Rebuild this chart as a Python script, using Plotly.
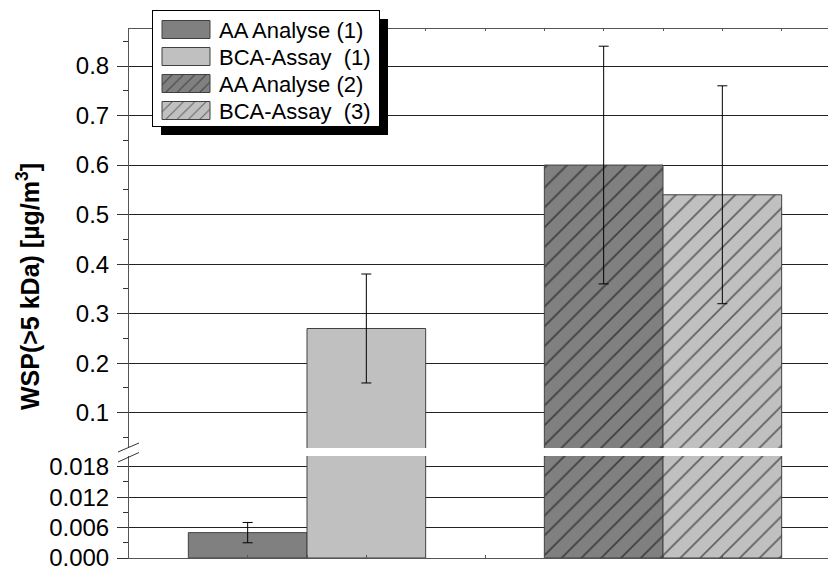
import plotly.graph_objects as go
import numpy as np

# ---- data ----
series_names = ["AA Analyse (1)", "BCA-Assay\u00a0 (1)", "AA Analyse (2)", "BCA-Assay\u00a0 (3)"]
group_pos = [0, 0, 1, 1]          # category slot of each series
slot = [0, 1, 0, 1]               # left / right bar within the group
values = [0.005, 0.27, 0.60, 0.54]
err_low = [0.003, 0.16, 0.36, 0.32]
err_high = [0.007, 0.38, 0.84, 0.76]
fill_colors = ["#808080", "#c0c0c0", "#808080", "#c0c0c0"]
hatched = [False, False, True, True]

lower_ticks = [0.0, 0.006, 0.012, 0.018]
upper_ticks = [0.1, 0.2, 0.3, 0.4, 0.5, 0.6, 0.7, 0.8]

# ---- layout geometry ----
W, H = 828, 566
ML, MR, MT, MB = 129, 0, 29, 8
PW, PH = W - ML - MR, H - MT - MB
px_per_cat = 356.0
bar_w = 1 / 3
x_range = [-0.5, -0.5 + PW / px_per_cat]
lower_dom = [0, 102 / PH]
upper_dom = [110 / PH, 1]
lower_range = [0, 0.0201]
upper_range = [0.0287, 0.8747]

font = "Liberation Sans, Arial, sans-serif"

fig = go.Figure()

for i, name in enumerate(series_names):
    pattern = dict(shape="/", fgcolor="#000000", bgcolor=fill_colors[i], size=14, solidity=0.12) if hatched[i] else dict(shape="")
    for panel, (xa, ya, rng) in enumerate([("x", "y", lower_range), ("x2", "y2", upper_range)]):
        vis_err = err_low[i] < rng[1] and err_high[i] > rng[0]
        fig.add_trace(go.Bar(
            x=[group_pos[i]], y=[values[i]],
            width=[bar_w], offset=[-bar_w + slot[i] * bar_w],
            name=name, xaxis=xa, yaxis=ya,
            marker=dict(color=fill_colors[i], line=dict(color="#404040", width=1), pattern=pattern),
            error_y=dict(type="data", symmetric=False,
                         array=[err_high[i] - values[i]], arrayminus=[values[i] - err_low[i]],
                         visible=vis_err, color="#000000", thickness=1, width=5),
            showlegend=(panel == 1),
            legendrank=i,
        ))

top_ticks = list(np.arange(-0.5, 1.5, 1 / 6))

axis_common = dict(showline=True, linecolor="#555555", linewidth=1, zeroline=False)
fig.update_layout(
    width=W, height=H,
    margin=dict(l=ML, r=MR, t=MT, b=MB, pad=0, autoexpand=False),
    paper_bgcolor="white", plot_bgcolor="white",
    barmode="overlay",
    showlegend=True,
    font=dict(family=font, color="black"),
    xaxis=dict(range=x_range, anchor="y", showgrid=False, showticklabels=False,
               ticks="inside", ticklen=3, tickcolor="#555555", tickvals=top_ticks, **axis_common),
    xaxis2=dict(range=x_range, matches="x", anchor="y2", side="top", showgrid=False, showticklabels=False,
                ticks="inside", ticklen=2, tickcolor="#555555", tickvals=top_ticks, **axis_common),
    yaxis=dict(domain=lower_dom, range=lower_range, anchor="x", tickvals=lower_ticks, tickformat=".3f",
               ticks="outside", ticklen=11, tickcolor="#333333", showgrid=True, gridcolor="#222222", gridwidth=1,
               tickfont=dict(size=24, family=font, color="black"), ticklabeloverflow="allow",
               ticklabelstandoff=3,
               minor=dict(ticks="outside", ticklen=5, dtick=0.003, tick0=0, tickcolor="#333333", showgrid=False),
               **axis_common),
    yaxis2=dict(domain=upper_dom, range=upper_range, anchor="x2", tickvals=upper_ticks, tickformat=".1f",
                ticks="outside", ticklen=11, tickcolor="#333333", showgrid=True, gridcolor="#222222", gridwidth=1,
                tickfont=dict(size=24, family=font, color="black"), ticklabeloverflow="allow",
                ticklabelstandoff=3,
                minor=dict(ticks="outside", ticklen=5, dtick=0.05, tick0=0, tickcolor="#333333", showgrid=False),
                **axis_common),
    legend=dict(x=(152 - ML) / PW, y=(H - MB - 10) / PH, xanchor="left", yanchor="top",
                bgcolor="white", bordercolor="#000000", borderwidth=1,
                font=dict(size=22, family=font, color="black"),
                itemwidth=56, tracegroupgap=0, traceorder="normal"),
)

# legend drop shadow
fig.add_shape(type="rect", xref="paper", yref="paper",
              x0=(161 - ML) / PW, x1=(388 - ML) / PW,
              y0=(H - MB - 135) / PH, y1=(H - MB - 19) / PH,
              fillcolor="black", line=dict(width=0), layer="above")

# axis break marks
for ya, yb in [(452, 443), (462, 452.5)]:
    fig.add_shape(type="line", xref="paper", yref="paper",
                  x0=(118 - ML) / PW, x1=(139 - ML) / PW,
                  y0=(H - MB - ya) / PH, y1=(H - MB - yb) / PH,
                  line=dict(color="#333333", width=1), layer="above")

# y-axis title spanning both panels
fig.add_annotation(text="<b>WSP(&gt;5 kDa) [µg/m<sup>3</sup>]</b>", textangle=-90,
                   xref="paper", yref="paper", x=(28 - ML) / PW, y=(H - MB - 287) / PH,
                   xanchor="center", yanchor="middle", showarrow=False,
                   font=dict(size=25, family=font, color="black"))

post = """
(function(){
  document.documentElement.style.margin='0';
  document.body.style.margin='0';
  document.body.style.overflow='hidden';
  function fix(){
    var leg = document.querySelector('.legend');
    if(!leg) return;
    leg.querySelectorAll('.legendpoints path').forEach(function(p){
      p.setAttribute('d','M24,9H-24V-9H24Z');
    });
    leg.querySelectorAll('g.traces').forEach(function(t, k){
      t.setAttribute('transform', 'translate(1,' + (19.5 + 27*k) + ')');
    });
    var bg = leg.querySelector('rect.bg');
    if(bg){ bg.setAttribute('width', 227); bg.setAttribute('height', 116); }
  }
  fix();
  [0, 50, 200, 500, 1000].forEach(function(t){ setTimeout(fix, t); });
})();
"""
fig.write_html("out.html", post_script=post, config={"displayModeBar": False})
